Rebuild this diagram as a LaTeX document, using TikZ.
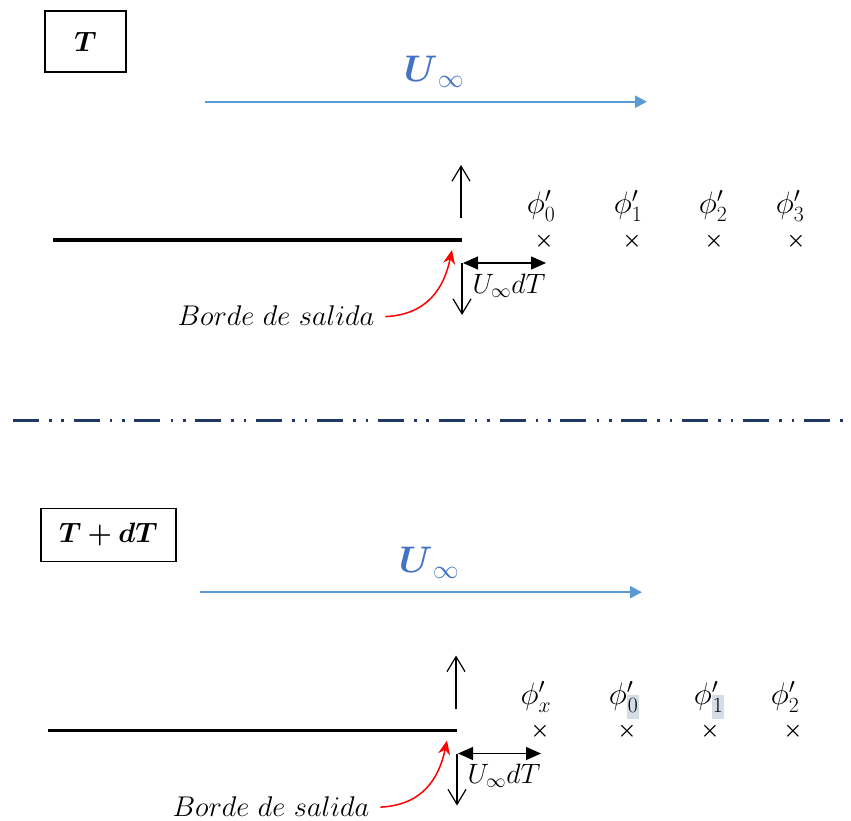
\RequirePackage{fix-cm}
\documentclass[tikz,border=0pt]{standalone}
\usepackage{bm}
\usetikzlibrary{arrows.meta}
\definecolor{flowblue}{HTML}{5B9BD5}
\definecolor{labblue}{HTML}{4472C4}
\definecolor{navyline}{HTML}{1F3864}
\definecolor{hlgray}{HTML}{D6DCE5}
\newcommand{\hlsub}[1]{{\setlength{\fboxsep}{1pt}\colorbox{hlgray}{$\scriptstyle\vphantom{(}#1$}}}
\tikzset{
  every node/.style={inner sep=0pt,outer sep=0pt},
  timebox/.style={draw, line width=1.3pt, font=\fontsize{28}{30}\selectfont},
  flowarrow/.style={flowblue, line width=2.3pt, -{Triangle[length=12pt,width=12pt]}},
  flowlabel/.style={text=labblue, font=\fontsize{37}{40}\selectfont, anchor=base},
  plate/.style={line width=3.3pt},
  thinarrow/.style={line width=1.2pt, -{Straight Barb[length=15pt,width=18pt]}},
  dimarrow/.style={line width=1.3pt, {Triangle[length=15pt,width=13pt]}-{Triangle[length=15pt,width=13pt]}},
  redarrow/.style={red, line width=1.5pt, -{Stealth[length=14pt,width=12pt]}},
  philabel/.style={font=\fontsize{31}{34}\selectfont, anchor=base},
  crossmark/.style={font=\fontsize{21}{24}\selectfont},
  dimlabel/.style={font=\fontsize{28}{30}\selectfont, anchor=base},
  telabel/.style={font=\fontsize{28.5}{32}\selectfont, anchor=base},
  divider/.style={navyline, line width=2.8pt, dash pattern=on 26pt off 10.2pt on 2.6pt off 9.8pt on 2.6pt off 9.65pt},
}
\newcommand{\drawpanel}[4]{%
  \node[timebox,#2] (#1box) {#3};
  \node[flowlabel] (#1U) at (434,82) {$\bm{U}_{\,\infty}$};
  \coordinate (#1fs) at (205,101.7);
  \coordinate (#1fe) at (647,101.7);
  \draw[flowarrow] (#1fs) -- (#1fe);
  \coordinate (#1le) at (53,240);
  \coordinate (#1te) at (461.7,240);
  \draw[plate] (#1le) -- (#1te);
  \coordinate (#1upS) at (461,218);
  \coordinate (#1upE) at (461,165);
  \draw[thinarrow] (#1upS) -- (#1upE);
  \foreach \px/\cx/\lab [count=\i] in {#4}{
    \node[philabel] (#1phi\i) at (\px,214) {$\lab$};
    \node[crossmark] (#1x\i) at (\cx,241) {$\bm{\times}$};
  }
  \coordinate (#1dimL) at (463,263);
  \coordinate (#1dimR) at (546,263);
  \draw[dimarrow] (#1dimL) -- (#1dimR);
  \coordinate (#1dnS) at (462,263);
  \coordinate (#1dnE) at (462,315);
  \draw[thinarrow] (#1dnS) -- (#1dnE);
  \node[dimlabel] (#1dim) at (509,293) {$U_\infty dT$};
  \node[telabel] (#1tel) at (276,325.5) {$Borde\ de\ salida$};
  \coordinate (#1tip) at (452,250);
  \draw[redarrow] ([xshift=11pt,yshift=-1pt]#1tel.east) .. controls +(42,-2) and +(-8,38) .. (#1tip);
}
\begin{document}
\begin{tikzpicture}[x=1pt,y=-1pt]
\useasboundingbox (0,0) rectangle (851,821);
\drawpanel{t}{at={(85.5,41.5)},minimum width=81pt,minimum height=61pt}{$\bm{T}$}{541/544/{\phi'_0},628/632/{\phi'_1},713/714/{\phi'_2},790/796/{\phi'_3}}
\coordinate (dl) at (12.7,420.3);
\coordinate (dr) at (843,420.3);
\draw[divider] (dl) -- (dr);
\begin{scope}[shift={(-5,490.5)}]
\drawpanel{b}{at={(113.5,44.5)},minimum width=135pt,minimum height=53pt}{$\bm{T+dT}$}{541/545/{\phi'_x},629/632/{\phi'_{\hlsub{0}}},714/715/{\phi'_{\hlsub{1}}},790/798/{\phi'_2}}
\end{scope}
\end{tikzpicture}
\end{document}
